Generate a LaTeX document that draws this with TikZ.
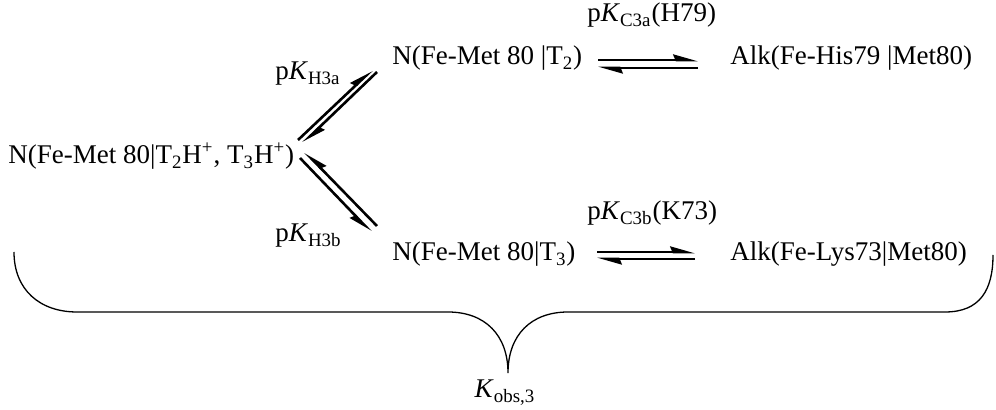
\documentclass[tikz,border=0pt]{standalone}
\usepackage{fontspec}
\setmainfont{Liberation Serif}
\usetikzlibrary{arrows.meta}

\begin{document}
\begin{tikzpicture}[
    x=0.5pt, y=-0.5pt,
    species/.style={anchor=base west, inner sep=0pt, font=\fontsize{13.5}{16}\selectfont},
    pklabel/.style={anchor=base west, inner sep=0pt, font=\fontsize{13.5}{16}\selectfont},
    harpleft/.style={line width=1.3pt, -{Stealth[left, length=10pt, width=5.5pt, inset=1pt]}},
    harpright/.style={line width=1.3pt, -{Stealth[right, length=10pt, width=5.5pt, inset=1pt]}},
    bracepath/.style={line width=0.65pt}
]
    \useasboundingbox (0,0) rectangle (996,410);

    % --- Species ---
    \node[species] (start) at (8,164) {N(Fe-Met 80|T\textsubscript{2}H\textsuperscript{+}, T\textsubscript{3}H\textsuperscript{+})};
    \node[species] (ntwo) at (392,65) {N(Fe-Met 80 |T\textsubscript{2})};
    \node[species] (nthree) at (392,261) {N(Fe-Met 80|T\textsubscript{3})};
    \node[species] (alkhis) at (730,65) {Alk(Fe-His79 |Met80)};
    \node[species] (alklys) at (730,261) {Alk(Fe-Lys73|Met80)};

    % --- Constants ---
    \node[pklabel] (pkhthreea) at (275,80) {p\textit{K}\textsubscript{H3a}};
    \node[pklabel] (pkhthreeb) at (275,242) {p\textit{K}\textsubscript{H3b}};
    \node[pklabel] (pkcthreea) at (587,22) {p\textit{K}\textsubscript{C3a}(H79)};
    \node[pklabel] (pkcthreeb) at (587,220) {p\textit{K}\textsubscript{C3b}(K73)};

    % --- Arrow end points ---
    \coordinate (ua1) at (298,140);  \coordinate (ua2) at (372,70);
    \coordinate (ub1) at (377,72);   \coordinate (ub2) at (303,143);
    \coordinate (la1) at (300,158);  \coordinate (la2) at (371,232);
    \coordinate (lb1) at (377,226);  \coordinate (lb2) at (305,152);
    \coordinate (ta1) at (598,60);   \coordinate (ta2) at (698,60);
    \coordinate (tb1) at (698,68);   \coordinate (tb2) at (598,68);
    \coordinate (ba1) at (597,252);  \coordinate (ba2) at (695,252);
    \coordinate (bb1) at (695,259);  \coordinate (bb2) at (597,259);

    % --- Equilibria ---
    % start <-> N(T2)
    \draw[harpleft] (ua1) -- (ua2);
    \draw[harpleft] (ub1) -- (ub2);
    % start <-> N(T3)
    \draw[harpright] (la1) -- (la2);
    \draw[harpright] (lb1) -- (lb2);
    % N(T2) <-> Alk(His79)
    \draw[harpleft] (ta1) -- (ta2);
    \draw[harpleft] (tb1) -- (tb2);
    % N(T3) <-> Alk(Lys73)
    \draw[harpleft] (ba1) -- (ba2);
    \draw[harpleft] (bb1) -- (bb2);

    % --- Brace ---
    \draw[bracepath] (14,252) .. controls (14,290) and (40,312) .. (77,312) -- (448,312)
        .. controls (485,312) and (508,335) .. (508,373)
        .. controls (508,335) and (531,312) .. (568,312) -- (945,312)
        .. controls (980,312) and (993,290) .. (993,255);
    \node[species, anchor=base] (kobs) at (505,398) {\textit{K}\textsubscript{obs,3}};

\end{tikzpicture}
\end{document}
